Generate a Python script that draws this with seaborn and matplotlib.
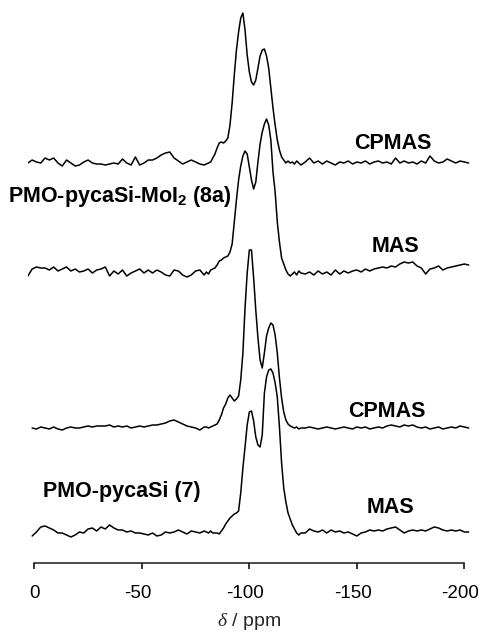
import numpy as np
import pandas as pd
import matplotlib
matplotlib.use("Agg")
import matplotlib.pyplot as plt
import matplotlib.transforms as mtransforms
import seaborn as sns

nan = float("nan")

# chemical shift sampling (ppm)
shift_ppm = [3, 1, -1, -3, -5, -7, -9, -11, -13, -15, -17, -19, -21, -23, -25, -27, -29,
             -31, -33, -35, -37, -39, -41, -43, -45, -47, -49, -51, -53, -55, -57, -59,
             -61, -63, -65, -67, -69, -71, -73, -75, -77, -79,
             -80, -81, -82, -83, -84, -85, -86, -87, -88, -89, -90, -91, -92, -93, -94,
             -95, -96, -97, -98, -99, -100, -101, -102, -103, -104, -105, -106, -107,
             -108, -109, -110, -111, -112, -113, -114, -115, -116, -117, -118, -119,
             -120, -121, -122, -123, -124,
             -126, -128, -130, -132, -134, -136, -138, -140, -142, -144, -146, -148,
             -150, -152, -154, -156, -158, -160, -162, -164, -166, -168, -170, -172,
             -174, -176, -178, -180, -182, -184, -186, -188, -190, -192, -194, -196,
             -198, -200, -202]

# intensities (arbitrary units)
cpmas_8a = [0, 3, 1, 0, 5, 3, 5, 0, -3, 3, 0, -3, -2, 1, 3, 0, -1, -1, -2, -1,
            0, -1, 4, 0, -2, 6, -2, 0, 3, 3, 5, 8, 10, 11, 5, 2, -1, 1, 3, 1, -1, -2,
            -1, 0, 1, 5, 9, 15, 20, 21, 20, 22, 25, 38, 60, 88, 113, 131, 145, 150, 133, 108,
            91, 81, 78, 83, 95, 107, 113, 114, 107, 95, 75, 55, 38, 23, 13, 6, 3, 0, 2, 0,
            1, -1, 2, 0, -2,
            1, 5, 0, 2, -1, 2, 0, -2, 1, 0, 2, -1, 1, 0, 2, -1, 1, 2, 0, 1,
            -1, 5, 0, 2, 0, 1, -1, 2, 0, 7, 2, 0, 1, 4, 2, 0, 2, 1, 0]

mas_8a = [-4, 3, 5, 4, 4, 2, 5, 1, 3, 5, 1, 3, 0, 1, 3, -1, 2, 3, 5, -4,
          1, -2, 2, -4, -1, 1, 3, -1, 2, -1, 2, 0, -3, -4, 2, 1, -3, -5, -3, 1, 2, -3,
          0, -2, 2, 3, 4, 7, 11, 12, 14, 15, 16, 20, 28, 50, 72, 92, 106, 116, 121, 118,
          105, 92, 83, 90, 110, 128, 140, 148, 153, 147, 132, 100, 80, 50, 30, 14, 8, 2, -2, -4,
          -2, 0, -3, 1, -1,
          -2, 0, -3, 1, -2, 0, -3, 2, -2, 1, -1, 1, 2, 0, 3, 1, 3, 4, 5, 4,
          6, 5, 8, 10, 9, 10, 6, 4, -2, 3, 4, 6, 2, 4, 5, 6, 7, 8, 7]

cpmas_7 = [nan, 0, -1, 1, 0, -1, 1, -1, -2, 0, 1, 0, 0, 1, 2, 1, 2, 2, 2, 3,
           1, 2, 1, 2, 0, 1, 2, 1, 2, 3, 3, 4, 5, 7, 8, 6, 4, 2, 1, 0, -2, 1,
           1, 0, 1, 2, 3, 4, 8, 13, 20, 24, 30, 33, 30, 27, 29, 32, 48, 75, 120, 155,
           178, 178, 150, 118, 90, 68, 60, 75, 92, 100, 105, 103, 93, 75, 50, 30, 16, 8, 4, 2,
           1, 0, 1, -1, 0,
           0, 1, 0, -1, 0, 1, 0, -1, 0, 1, 0, -1, 1, 0, 1, -1, 0, 1, 0, 2,
           3, 2, 1, 3, 2, 3, 1, 0, 1, -1, 0, 1, -1, 0, 1, 0, 2, 1, 0]

mas_7 = [nan, -3, 1, 6, 7, 5, 3, 0, 0, -2, -4, -2, 1, 0, 4, 5, 2, 6, 4, 8,
         5, 3, 3, 1, 2, 0, 0, -1, -2, 0, -3, -2, 1, 0, 1, 3, 1, -1, 2, 1, 0, 2,
         1, 0, 2, 0, 0, 0, -1, 2, 5, 9, 12, 15, 17, 19, 20, 22, 40, 65, 86, 108,
         121, 122, 112, 96, 88, 86, 98, 140, 156, 163, 164, 160, 150, 136, 106, 70, 45, 31, 20, 14,
         8, 4, 0, -2, 0,
         0, 4, 2, 1, 3, 0, 3, 1, 2, 0, 1, -1, -3, 0, 1, 3, 2, 3, 2, 4,
         5, 6, 3, 0, 2, 3, 2, 3, 2, 4, 6, 5, 3, 2, 3, 2, 3, 1, 1]

trace_names = ["CPMAS 8a", "MAS 8a", "CPMAS 7", "MAS 7"]
x_ticks = [0, -50, -100, -150, -200]
x_tick_labels = ["0", "-50", "-100", "-150", "-200"]

# vertical stacking (layout only)
stack_offset = {"CPMAS 8a": 400, "MAS 8a": 291, "CPMAS 7": 135, "MAS 7": 30}

sns.set_style("white")
plt.rcParams["font.family"] = ["Liberation Sans", "DejaVu Sans"]
plt.rcParams["axes.unicode_minus"] = False
plt.rcParams["mathtext.fontset"] = "custom"
plt.rcParams["mathtext.rm"] = "Liberation Sans:bold"
plt.rcParams["mathtext.bf"] = "Liberation Sans:bold"
plt.rcParams["mathtext.it"] = "Liberation Serif:italic"

frames = []
for name, vals in zip(trace_names, [cpmas_8a, mas_8a, cpmas_7, mas_7]):
    assert len(vals) == len(shift_ppm), (name, len(vals))
    frames.append(pd.DataFrame({
        "ppm": shift_ppm,
        "intensity": np.asarray(vals, dtype=float) + stack_offset[name],
        "trace": name,
    }))
df = pd.concat(frames, ignore_index=True).dropna()

fig = plt.figure(figsize=(4.82, 6.35), dpi=100)
fig.patch.set_facecolor("white")
ax = fig.add_axes([0.0578, 0.1134, 0.919, 0.8787])

sns.lineplot(data=df, x="ppm", y="intensity", units="trace", estimator=None,
             sort=False, color="black", lw=1.1, ax=ax, legend=False)

ax.set_xlim(3, -203)
ax.set_ylim(0, 558)
for s in ["top", "right", "left"]:
    ax.spines[s].set_visible(False)
ax.spines["bottom"].set_bounds(0, -200)
ax.spines["bottom"].set_linewidth(1.1)
ax.spines["bottom"].set_color("#1a1a1a")
ax.set_yticks([])
ax.set_ylabel("")
ax.set_xticks(x_ticks, x_tick_labels)
ax.tick_params(axis="x", direction="out", length=4.5, width=1.1, pad=11,
               labelsize=13.5, colors="black", bottom=True)
# hyphenated labels sit slightly left of their ticks in the original
for lab in ax.get_xticklabels():
    if lab.get_text().startswith("-"):
        lab.set_transform(lab.get_transform() +
                          mtransforms.ScaledTranslation(-4 / 100, 0, fig.dpi_scale_trans))
ax.set_xlabel(r"$\delta$ / ppm", fontsize=14, labelpad=7)

tk = dict(fontsize=15.5, fontweight="bold", va="baseline", color="black")
ax.text(-166.8, 414, "CPMAS", ha="center", **tk)
ax.text(12.2, 361, r"PMO-pycaSi-MoI$_\mathbf{2}$ (8a)", ha="left", **tk)
ax.text(-168, 311, "MAS", ha="center", **tk)
ax.text(-164, 146, "CPMAS", ha="center", **tk)
ax.text(-4.2, 66, "PMO-pycaSi (7)", ha="left", **tk)
ax.text(-165.4, 50, "MAS", ha="center", **tk)

fig.savefig("out.png", dpi=100, facecolor="white")
